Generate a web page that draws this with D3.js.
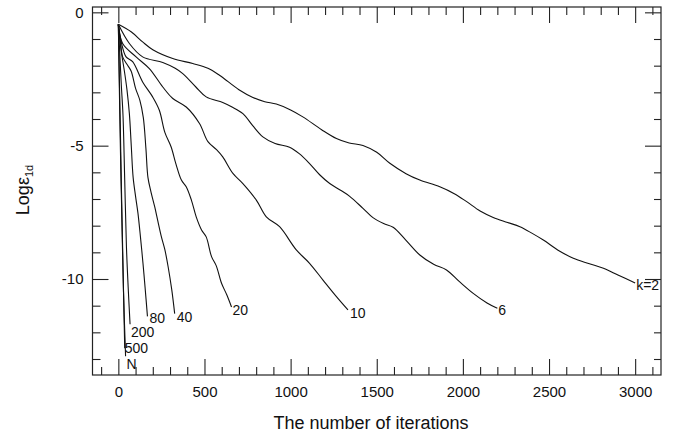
<!DOCTYPE html>
<html>
<head>
<meta charset="utf-8">
<script src="https://cdn.jsdelivr.net/npm/d3@7"></script>
<style>
  body { margin: 0; background: #fff; }
  svg { display: block; }
  text { font-family: "Liberation Sans", Arial, Helvetica, sans-serif; fill: #111; }
</style>
</head>
<body>
<svg id="chart" width="677" height="435"></svg>
<script>
// Axis ticks
const xTicks = [0, 500, 1000, 1500, 2000, 2500, 3000];
const yTicks = [0, -5, -10];

// Convergence histories: [iterations, log error] for each k
const k2 = [
  [0, -0.45], [76, -0.74], [141, -1.11], [200, -1.40], [316, -1.73], [432, -1.92],
  [520, -2.10], [587, -2.36], [700, -2.90], [781, -3.19], [850, -3.35], [917, -3.44],
  [1000, -3.66], [1071, -3.92], [1180, -4.40], [1266, -4.73], [1340, -4.90], [1420, -4.99],
  [1500, -5.25], [1576, -5.66], [1670, -6.05], [1750, -6.29], [1866, -6.54], [1950, -6.80],
  [2022, -7.10], [2100, -7.45], [2176, -7.69], [2260, -7.88], [2331, -8.04], [2400, -8.28],
  [2467, -8.54], [2560, -8.95], [2641, -9.22], [2730, -9.42], [2816, -9.60], [2900, -9.85],
  [3000, -10.15]
];
const k6 = [
  [0, -0.45], [64, -1.17], [141, -1.67], [258, -1.88], [330, -2.10], [374, -2.30],
  [450, -2.80], [510, -3.17], [606, -3.38], [660, -3.55], [723, -3.80], [780, -4.25],
  [839, -4.67], [910, -4.92], [994, -5.06], [1050, -5.30], [1110, -5.67], [1170, -6.10],
  [1227, -6.42], [1290, -6.67], [1343, -6.90], [1420, -7.35], [1478, -7.70], [1540, -7.92],
  [1595, -8.06], [1670, -8.55], [1750, -9.10], [1830, -9.45], [1905, -9.66], [1980, -10.10],
  [2060, -10.54], [2140, -10.90], [2200, -11.10]
];
const k10 = [
  [0, -0.45], [25, -1.17], [103, -1.67], [180, -2.11], [258, -2.80], [316, -3.23],
  [394, -3.55], [471, -4.17], [520, -4.85], [570, -5.15], [606, -5.42], [665, -6.04],
  [723, -6.42], [801, -7.04], [859, -7.67], [936, -8.04], [1033, -8.91], [1110, -9.41],
  [1188, -10.04], [1266, -10.66], [1333, -11.16]
];
const k20 = [
  [0, -0.45], [20, -1.20], [45, -1.67], [83, -1.85], [141, -2.61], [199, -3.17],
  [238, -3.67], [270, -4.50], [306, -5.04], [335, -5.70], [366, -6.29], [394, -6.54],
  [424, -7.04], [452, -7.67], [483, -8.16], [510, -8.42], [541, -9.16], [568, -9.50],
  [599, -10.16], [630, -10.60], [657, -11.05]
];
const k40 = [
  [0, -0.45], [12, -1.10], [25, -1.67], [50, -1.95], [74, -2.20], [100, -2.85],
  [125, -3.30], [145, -3.95], [160, -5.10], [172, -6.20], [190, -6.75], [211, -7.29],
  [230, -7.85], [250, -8.42], [270, -8.90], [289, -9.54], [310, -10.40], [327, -11.30]
];
const k80 = [
  [0, -0.45], [8, -1.00], [20, -1.60], [35, -2.20], [50, -2.90], [64, -3.80],
  [75, -5.00], [86, -6.20], [100, -6.90], [114, -7.54], [128, -8.40], [143, -9.41],
  [155, -10.30], [169, -11.40]
];
const k200 = [
  [0, -0.45], [8, -1.50], [17, -2.70], [27, -3.86], [37, -6.29], [47, -8.79],
  [57, -10.30], [68, -11.70]
];
const k500 = [
  [0, -0.45], [6, -2.50], [12, -4.50], [17, -6.29], [27, -9.50], [37, -12.60]
];
const kN = [
  [0, -0.45], [5, -2.50], [11, -4.80], [18, -7.00], [30, -10.50], [42, -12.90]
];

const seriesNames = ["k=2", "6", "10", "20", "40", "80", "200", "500", "N"];
const seriesData = [k2, k6, k10, k20, k40, k80, k200, k500, kN];

// Label placement relative to the end of each curve (pixels)
const labelOffset = {
  "k=2": [1, 7], "6": [1, 7], "10": [2, 8], "20": [1, 8], "40": [2, 8],
  "80": [2, 7], "200": [1, 13], "500": [0, 5], "N": [1, 13]
};

const plot = { left: 92.5, right: 661, top: 7, bottom: 375 };

const x = d3.scaleLinear().domain([-150, 3150]).range([plot.left, plot.right]);
const y = d3.scaleLinear().domain([-13.6, 0.2]).range([plot.bottom, plot.top]);

const svg = d3.select("#chart");

const xMinor = d3.range(-100, 3101, 100).filter(v => v % 500 !== 0);
const yMinor = d3.range(-13, 1, 1).filter(v => v % 5 !== 0);

function tickLayer(axisFn, scale, values, size, transform) {
  const g = svg.append("g")
    .attr("transform", transform)
    .call(axisFn(scale).tickValues(values).tickSize(size).tickFormat(""));
  g.select(".domain").remove();
  g.selectAll("line").attr("stroke", "#222").attr("stroke-width", 1.1);
}

// Inward-facing ticks on all four sides
tickLayer(d3.axisTop, x, xTicks, 16, `translate(0,${plot.bottom})`);
tickLayer(d3.axisTop, x, xMinor, 8, `translate(0,${plot.bottom})`);
tickLayer(d3.axisBottom, x, xTicks, 16, `translate(0,${plot.top})`);
tickLayer(d3.axisBottom, x, xMinor, 8, `translate(0,${plot.top})`);
tickLayer(d3.axisRight, y, yTicks, 16, `translate(${plot.left},0)`);
tickLayer(d3.axisRight, y, yMinor, 8, `translate(${plot.left},0)`);
tickLayer(d3.axisLeft, y, yTicks, 16, `translate(${plot.right},0)`);
tickLayer(d3.axisLeft, y, yMinor, 7, `translate(${plot.right},0)`);

// Tick labels
const xLab = svg.append("g")
  .attr("transform", `translate(0,${plot.bottom})`)
  .call(d3.axisBottom(x).tickValues(xTicks).tickSize(0).tickPadding(11).tickFormat(d => String(d)));
xLab.select(".domain").remove();
xLab.selectAll("text").style("font-size", "15px").attr("fill", "#111");

const yLab = svg.append("g")
  .attr("transform", `translate(${plot.left},0)`)
  .call(d3.axisLeft(y).tickValues(yTicks).tickSize(0).tickPadding(9).tickFormat(d => String(d)));
yLab.select(".domain").remove();
yLab.selectAll("text").style("font-size", "15px").attr("fill", "#111");

// Frame
svg.append("rect")
  .attr("x", plot.left).attr("y", plot.top)
  .attr("width", plot.right - plot.left).attr("height", plot.bottom - plot.top)
  .attr("fill", "none").attr("stroke", "#222").attr("stroke-width", 1.2);

// Curves
const line = d3.line()
  .x(d => x(d[0])).y(d => y(d[1]))
  .curve(d3.curveCatmullRom.alpha(0.5));

svg.append("g").selectAll("path")
  .data(seriesData)
  .join("path")
  .attr("d", line)
  .attr("fill", "none")
  .attr("stroke", "#111")
  .attr("stroke-width", 1.1);

// Curve labels at the end of each curve
svg.append("g").selectAll("text")
  .data(seriesNames)
  .join("text")
  .attr("x", (name, i) => x(seriesData[i][seriesData[i].length - 1][0]) + labelOffset[name][0])
  .attr("y", (name, i) => y(seriesData[i][seriesData[i].length - 1][1]) + labelOffset[name][1])
  .style("font-size", "14px")
  .text(d => d);

// Axis titles
svg.append("text")
  .attr("x", 371).attr("y", 429)
  .attr("text-anchor", "middle")
  .style("font-size", "18px")
  .text("The number of iterations");

const yTitle = svg.append("text")
  .attr("transform", "translate(29,190) rotate(-90)")
  .attr("text-anchor", "middle")
  .style("font-size", "18px");
yTitle.append("tspan").text("Log\u03b5");
yTitle.append("tspan").attr("dy", 4).style("font-size", "11px").text("1d");
</script>
</body>
</html>
